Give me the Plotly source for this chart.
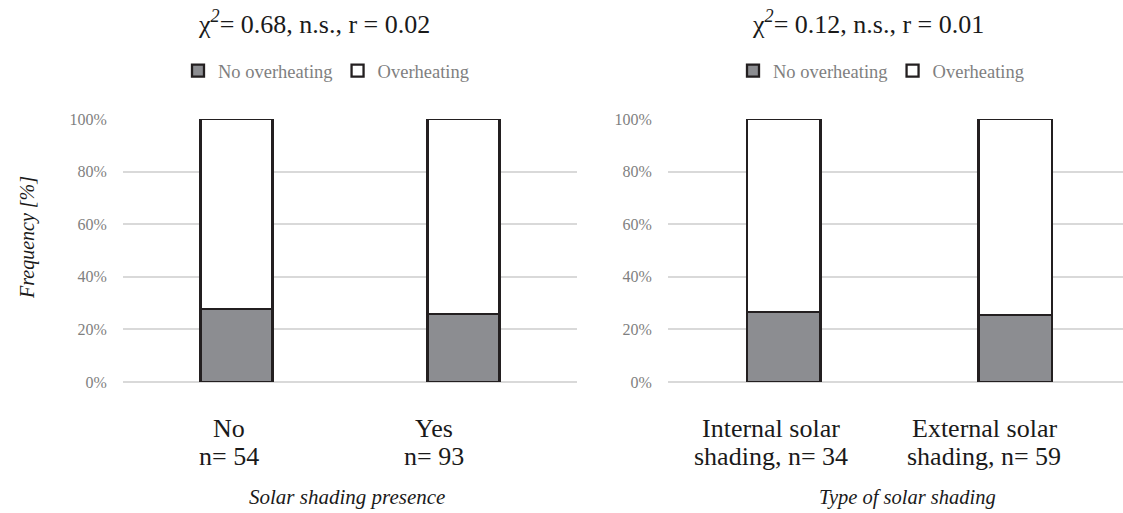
import plotly.graph_objects as go

# ---- data ----
cat_line1_left = ["No", "Yes"]
cat_line2_left = ["n= 54", "n= 93"]
no_overheating_left = [27.8, 25.8]
overheating_left = [72.2, 74.2]

cat_line1_right = ["Internal solar", "External solar"]
cat_line2_right = ["shading, n= 34", "shading, n= 59"]
no_overheating_right = [26.5, 25.4]
overheating_right = [73.5, 74.6]

series_names = ["No overheating", "Overheating"]
titles = ["χ<sup><i>2</i></sup>= 0.68, n.s., r = 0.02", "χ<sup><i>2</i></sup>= 0.12, n.s., r = 0.01"]
x_titles = ["Solar shading presence", "Type of solar shading"]
y_title = "Frequency [%]"
y_ticks = [0, 20, 40, 60, 80, 100]
y_ticktext = ["0%", "20%", "40%", "60%", "80%", "100%"]

FONT = "Liberation Serif"
DARK = "#8c8d91"
EDGE = "#231f20"
GREY_TXT = "#7f7f7f"
TXT = "#1a1a1a"
W, H = 1123, 513

cats_left = [a + " " + b for a, b in zip(cat_line1_left, cat_line2_left)]
cats_right = [a + " " + b for a, b in zip(cat_line1_right, cat_line2_right)]

fig = go.Figure()
bar_w = 0.317

def add_panel(cats, lo, hi, xa, ya, leg):
    fig.add_trace(go.Bar(x=cats, y=lo, name=series_names[0], xaxis=xa, yaxis=ya,
                         marker=dict(color=DARK, line=dict(color=EDGE, width=2.3)),
                         width=bar_w, legend=leg, hoverinfo="y"))
    fig.add_trace(go.Bar(x=cats, y=hi, name=series_names[1], xaxis=xa, yaxis=ya,
                         marker=dict(color="white", line=dict(color=EDGE, width=2.3)),
                         width=bar_w, legend=leg, hoverinfo="y"))

add_panel(cats_left, no_overheating_left, overheating_left, "x", "y", "legend")
add_panel(cats_right, no_overheating_right, overheating_right, "x2", "y2", "legend2")

ydom = [1 - 382 / H, 1 - 119 / H]
yaxis_common = dict(range=[0, 100], tickmode="array", tickvals=y_ticks, ticktext=y_ticktext,
                    showgrid=True, gridcolor="#d9d9d9", gridwidth=1.5, zeroline=True,
                    zerolinecolor="#d9d9d9", zerolinewidth=1.5, showline=False, ticks="outside",
                    ticklen=12, tickcolor="rgba(0,0,0,0)",
                    tickfont=dict(family=FONT, size=16, color=GREY_TXT),
                    domain=ydom, fixedrange=True, automargin=False)
xaxis_common = dict(type="category", showline=False, showgrid=False, zeroline=False,
                    showticklabels=False, ticks="", fixedrange=True, automargin=False)

leg_common = dict(orientation="h", y=1 - 71 / H, xanchor="center", yanchor="middle",
                  font=dict(family=FONT, size=18.5, color=GREY_TXT), itemwidth=30,
                  traceorder="normal", bgcolor="rgba(0,0,0,0)")

fig.update_layout(
    template="none",
    width=W, height=H, margin=dict(l=0, r=0, t=0, b=0, pad=0, autoexpand=False),
    paper_bgcolor="white", plot_bgcolor="white", barmode="stack",
    font=dict(family=FONT, color=TXT),
    xaxis=dict(xaxis_common, domain=[123 / W, 577 / W], range=[-0.5, 1.5], anchor="y"),
    yaxis=dict(yaxis_common, anchor="x"),
    xaxis2=dict(xaxis_common, domain=[668 / W, 1.0], range=[-0.5, 1.4665], anchor="y2"),
    yaxis2=dict(yaxis_common, anchor="x2"),
    legend=dict(leg_common, x=326 / W),
    legend2=dict(leg_common, x=881 / W),
    showlegend=True,
)

def ann(text, x, y, size, color=TXT, xref="paper", angle=0, xshift=0):
    fig.add_annotation(text=text, x=x, y=y, xref=xref, yref="paper", xanchor="center",
                       yanchor="middle", showarrow=False, textangle=angle, xshift=xshift,
                       font=dict(family=FONT, size=size, color=color))

ann(titles[0], 314 / W, 1 - 22 / H, 26)
ann(titles[1], 868 / W, 1 - 22 / H, 26)
ann("<i>" + x_titles[0] + "</i>", 347 / W, 1 - 497 / H, 21)
ann("<i>" + x_titles[1] + "</i>", 907 / W, 1 - 497 / H, 20.5)
ann("<i>" + y_title + "</i>", 27 / W, 1 - 238 / H, 20, angle=-90)

label_shift = [[-8, -30], [-13, -31]]
for k, (cats, l1, l2, xr) in enumerate([(cats_left, cat_line1_left, cat_line2_left, "x"),
                                        (cats_right, cat_line1_right, cat_line2_right, "x2")]):
    for j, (c, a, b) in enumerate(zip(cats, l1, l2)):
        ann(a, c, 1 - 428 / H, 26, xref=xr, xshift=label_shift[k][j])
        ann(b, c, 1 - 456 / H, 26, xref=xr, xshift=label_shift[k][j])

fig.write_html("out.html", config={"displayModeBar": False},
               post_script="document.body.style.margin='0';")
